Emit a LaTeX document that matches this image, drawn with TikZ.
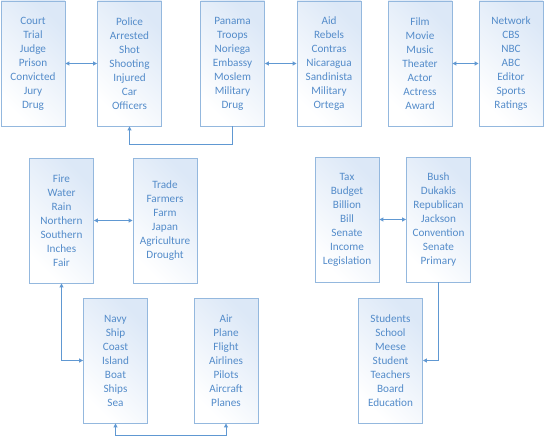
\documentclass[tikz,border=0pt]{standalone}
\usepackage{fontspec}
\setmainfont{Carlito}
\usetikzlibrary{arrows.meta}
\usetikzlibrary{positioning}

\definecolor{boxline}{RGB}{148,184,222}
\definecolor{boxfill}{RGB}{220,232,247}
\definecolor{boxtext}{RGB}{84,140,202}
\definecolor{linkcol}{RGB}{96,152,210}

\begin{document}
\begin{tikzpicture}[x=1pt,y=-1pt,
  topic/.style={rectangle,draw=boxline,line width=0.9pt,shading=axis,left color=white,right color=boxfill,shading angle=135,
    minimum width=64pt,minimum height=125pt,align=center,text=boxtext,font=\fontsize{11.2}{14}\selectfont},
  link/.style={draw=linkcol,line width=1pt,arrows={Triangle[length=4pt,width=4pt]-Triangle[length=4pt,width=4pt]}},
  onelink/.style={draw=linkcol,line width=1pt,-{Triangle[length=4pt,width=4pt]}}]
\useasboundingbox (0,0) rectangle (545,436);

\node[topic] (court) at (33,63.5) {Court\\Trial\\Judge\\Prison\\Convicted\\Jury\\Drug};
\node[topic] (police) at (129.5,63.5) {Police\\Arrested\\Shot\\Shooting\\Injured\\Car\\Officers};
\node[topic] (panama) at (232.5,63.5) {Panama\\Troops\\Noriega\\Embassy\\Moslem\\Military\\Drug};
\node[topic] (aid) at (329,63.5) {Aid\\Rebels\\Contras\\Nicaragua\\Sandinista\\Military\\Ortega};
\node[topic] (film) at (420,63.5) {Film\\Movie\\Music\\Theater\\Actor\\Actress\\Award};
\node[topic] (network) at (511,63.5) {Network\\CBS\\NBC\\ABC\\Editor\\Sports\\Ratings};

\node[topic] (fire) at (61.5,220.5) {Fire\\Water\\Rain\\Northern\\Southern\\Inches\\Fair};
\node[topic] (trade) at (165,220.5) {Trade\\Farmers\\Farm\\Japan\\Agriculture\\Drought};
\node[topic] (navy) at (115.5,360.5) {Navy\\Ship\\Coast\\Island\\Boat\\Ships\\Sea};
\node[topic] (air) at (226,360.5) {Air\\Plane\\Flight\\Airlines\\Pilots\\Aircraft\\Planes};

\node[topic] (tax) at (347,219.5) {Tax\\Budget\\Billion\\Bill\\Senate\\Income\\Legislation};
\node[topic] (bush) at (438.5,219.5) {Bush\\Dukakis\\Republican\\Jackson\\Convention\\Senate\\Primary};
\node[topic] (students) at (390.5,360.5) {Students\\School\\Meese\\Student\\Teachers\\Board\\Education};

\draw[link] (court) -- (police);
\draw[link] (panama) -- (aid);
\draw[link] (film) -- (network);
\draw[onelink] (panama.south) -- ++(0,18) -| (police.south);

\draw[link] (fire) -- (trade);
\draw[link] (fire.south) |- (navy.west);
\draw[link] (navy.south) -- ++(0,12) -| (air.south);

\draw[link] (tax) -- (bush);
\draw[onelink] (bush.south) |- (students.east);

\end{tikzpicture}
\end{document}
